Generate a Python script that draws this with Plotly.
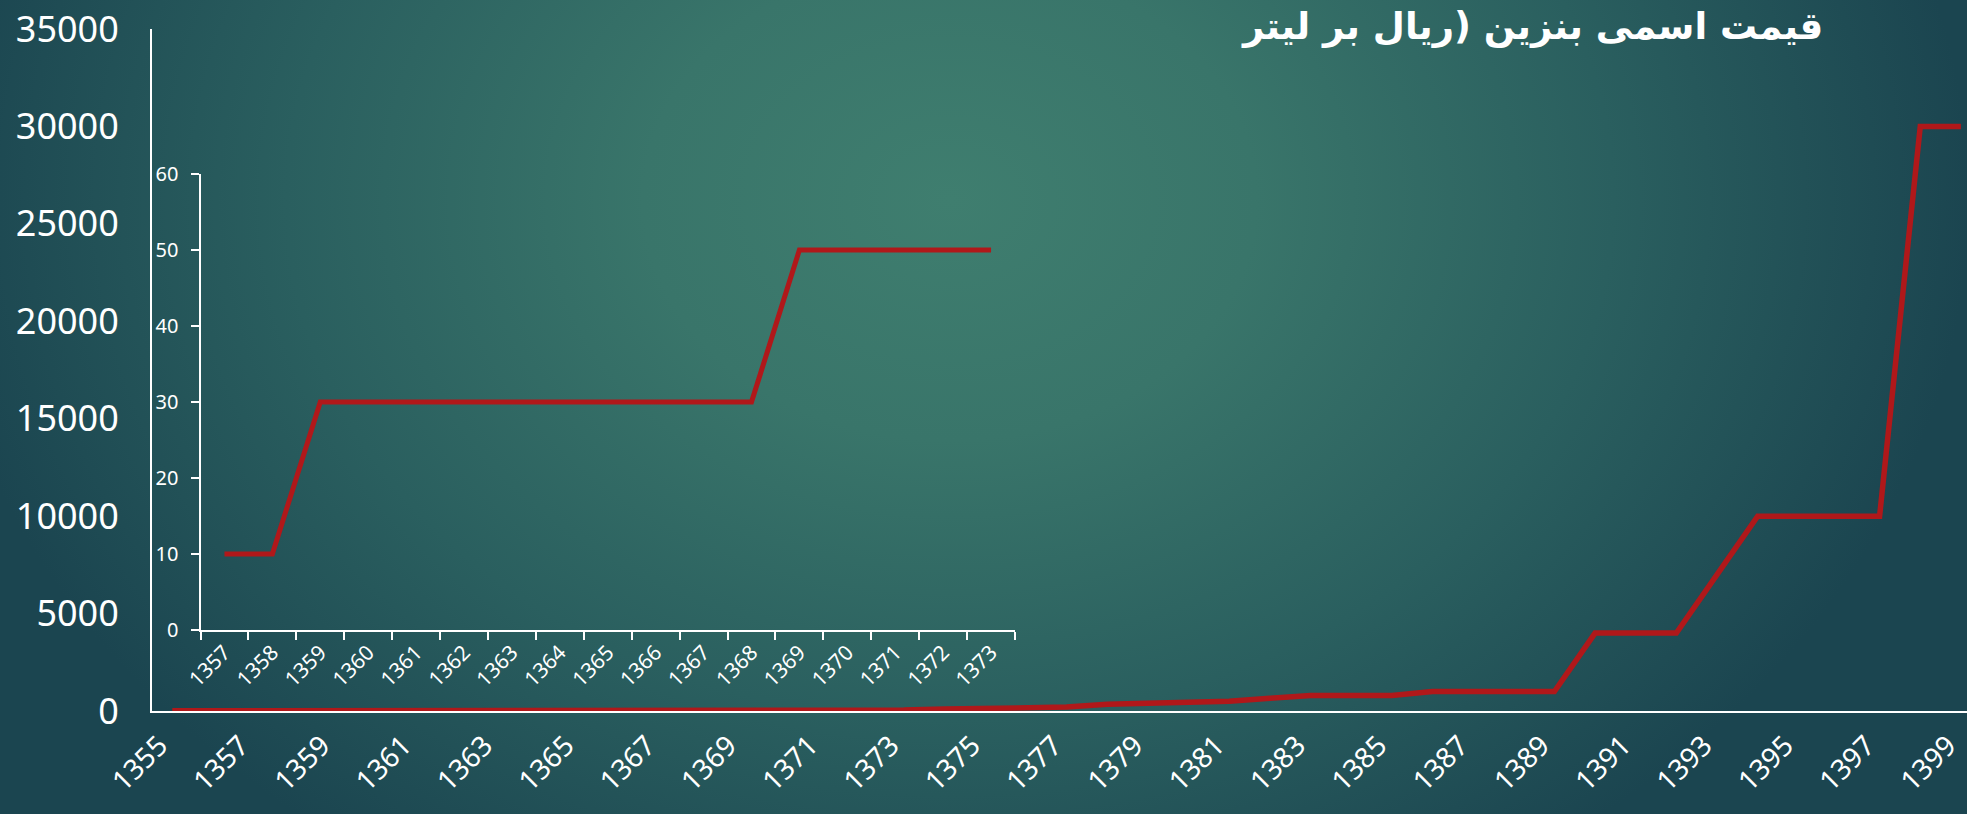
import base64
import plotly.graph_objects as go

# ---------------- data ----------------
years_main = [1355, 1356, 1357, 1358, 1359, 1360, 1361, 1362, 1363, 1364, 1365,
              1366, 1367, 1368, 1369, 1370, 1371, 1372, 1373, 1374, 1375, 1376,
              1377, 1378, 1379, 1380, 1381, 1382, 1383, 1384, 1385, 1386, 1387,
              1388, 1389, 1390, 1391, 1392, 1393, 1394, 1395, 1396, 1397, 1398, 1399]
price_main = [10, 10, 10, 10, 30, 30, 30, 30, 30, 30, 30,
              30, 30, 30, 50, 50, 50, 50, 50, 100, 130, 160,
              200, 350, 385, 450, 500, 650, 800, 800, 800, 1000, 1000,
              1000, 1000, 4000, 4000, 4000, 7000, 10000, 10000, 10000, 10000, 30000, 30000]

years_inset = ["1357", "1358", "1359", "1360", "1361", "1362", "1363", "1364", "1365",
               "1366", "1367", "1368", "1369", "1370", "1371", "1372", "1373"]
price_inset = [10, 10, 30, 30, 30, 30, 30, 30, 30, 30, 30, 30, 50, 50, 50, 50, 50]

main_tickvals = years_main[::2]
main_ticktext = [str(v) for v in main_tickvals]

title_text = "قیمت اسمی بنزین (ریال بر لیتر"

# ---------------- style ----------------
W, H = 1967, 814
L, R, T, B = 152, 0, 29, 103
RED = "#b0181a"
WHITE = "#ffffff"
FONT = "Noto Sans"

svg = f'''<svg xmlns="http://www.w3.org/2000/svg" width="{W}" height="{H}" viewBox="0 0 {W} {H}" preserveAspectRatio="none">
<defs>
<radialGradient id="g" gradientUnits="userSpaceOnUse" cx="950" cy="200" r="1000"
 gradientTransform="translate(950 200) scale(1.02 0.8) translate(-950 -200)">
<stop offset="0" stop-color="#3f7e6f"/>
<stop offset="0.3" stop-color="#39756a"/>
<stop offset="0.65" stop-color="#2a5f5f"/>
<stop offset="1" stop-color="#1b4550"/>
</radialGradient>
</defs>
<rect x="0" y="0" width="{W}" height="{H}" fill="url(#g)"/>
</svg>'''
bg_uri = "data:image/svg+xml;base64," + base64.b64encode(svg.encode("utf-8")).decode("ascii")

pw = W - L - R
ph = H - T - B

fig = go.Figure()
fig.add_trace(go.Scatter(x=years_main, y=price_main, mode="lines",
                         line=dict(color=RED, width=5.5), xaxis="x", yaxis="y",
                         hoverinfo="x+y", showlegend=False))
fig.add_trace(go.Scatter(x=years_inset, y=price_inset, mode="lines",
                         line=dict(color=RED, width=5), xaxis="x2", yaxis="y2",
                         hoverinfo="x+y", showlegend=False))

fig.update_layout(
    width=W, height=H,
    margin=dict(l=L, r=R, t=T, b=B, pad=0, autoexpand=False),
    paper_bgcolor="#2b6161",
    plot_bgcolor="rgba(0,0,0,0)",
    showlegend=False,
    font=dict(family=FONT, color=WHITE),
    images=[dict(source=bg_uri, xref="paper", yref="paper",
                 x=-L / pw, y=1 + T / ph, sizex=W / pw, sizey=H / ph,
                 xanchor="left", yanchor="top", sizing="stretch", layer="below")],
    xaxis=dict(range=[1354.5, 1399.15], tickmode="array", tickvals=main_tickvals,
               ticktext=main_ticktext, tickangle=-45, ticks="",
               tickfont=dict(size=28, color=WHITE, family=FONT),
               ticklabelstandoff=5, ticklabelshift=-13, ticklabeloverflow="allow",
               automargin=False,
               showline=True, linecolor=WHITE, linewidth=2, showgrid=False,
               zeroline=False, layer="below traces", anchor="y"),
    yaxis=dict(range=[0, 35000], tickmode="linear", tick0=0, dtick=5000,
               tickformat="d", ticks="", tickfont=dict(size=36, color=WHITE, family=FONT),
               ticklabelstandoff=24, ticklabeloverflow="allow", automargin=False,
               showline=True, linecolor=WHITE, linewidth=2, showgrid=False,
               zeroline=False, layer="below traces", anchor="x"),
    xaxis2=dict(domain=[(200.5 - L) / pw, (1015 - L) / pw], anchor="y2",
                type="category", range=[-0.5, 16.5], tickson="boundaries",
                ticks="outside", ticklen=8, tickwidth=1.5, tickcolor=WHITE,
                tickangle=-45, tickfont=dict(size=21, color=WHITE, family=FONT),
                automargin=False,
                showline=True, linecolor=WHITE, linewidth=2, showgrid=False,
                zeroline=False),
    yaxis2=dict(domain=[(H - B - 630) / ph, (H - B - 174) / ph], anchor="x2",
                range=[0, 60], tickmode="linear", tick0=0, dtick=10,
                ticks="outside", ticklen=8, tickwidth=1.5, tickcolor=WHITE,
                tickfont=dict(size=20, color=WHITE, family=FONT),
                ticklabelstandoff=8, automargin=False,
                showline=True, linecolor=WHITE, linewidth=2, showgrid=False,
                zeroline=False),
    annotations=[dict(text="<b>" + title_text + "</b>", xref="paper", yref="paper",
                      x=(1825 - L) / pw, y=(H - B - 26) / ph,
                      xanchor="right", yanchor="middle", showarrow=False,
                      font=dict(size=37, color=WHITE, family="DejaVu Sans"))],
)

fig.write_html("out.html", config={"displayModeBar": False},
               post_script="document.body.style.margin='0';document.body.style.overflow='hidden';")
